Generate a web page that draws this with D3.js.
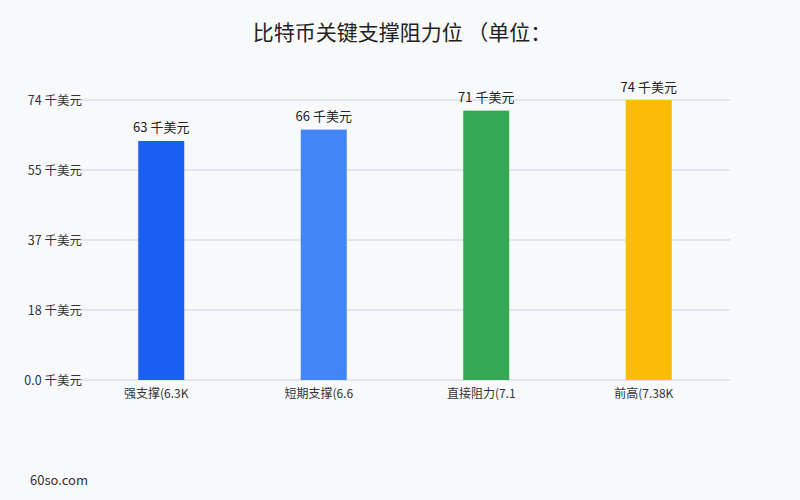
<!DOCTYPE html>
<html>
<head>
<meta charset="utf-8">
<script src="https://cdn.jsdelivr.net/npm/d3@7"></script>
<style>
  body { margin: 0; background: #f8f9fb; }
  text { font-family: "Noto Sans CJK SC", "Noto Sans", sans-serif; }
</style>
</head>
<body>
<div id="chart"></div>
<script>
// data
const categories = ["强支撑(6.3K", "短期支撑(6.6", "直接阻力(7.1", "前高(7.38K"];
const values = [63, 66, 71, 73.8];
const valueLabels = ["63 千美元", "66 千美元", "71 千美元", "74 千美元"];
const barColors = ["#1b5ff4", "#4285f4", "#34a853", "#fbbc05"];
const yTickValues = [0, 18.45, 36.9, 55.35, 73.8];
const yTickLabels = ["0.0 千美元", "18 千美元", "37 千美元", "55 千美元", "74 千美元"];

var width = 800, height = 500;
var margin = { top: 100, right: 70, bottom: 120, left: 80 };

var svg = d3.select("#chart")
  .append("svg")
  .attr("width", width)
  .attr("height", height);

svg.append("rect")
  .attr("width", width)
  .attr("height", height)
  .attr("fill", "#f8f9fb");

// title
svg.append("text")
  .attr("x", 402)
  .attr("y", 40)
  .attr("text-anchor", "middle")
  .attr("font-size", 21)
  .attr("fill", "#222")
  .text("比特币关键支撑阻力位 （单位：");

var x = d3.scaleBand()
  .domain(categories)
  .range([margin.left, width - margin.right])
  .padding(0);

var y = d3.scaleLinear()
  .domain([0, 73.8])
  .range([height - margin.bottom, margin.top]);

// y axis + grid
var yAxis = svg.append("g")
  .attr("transform", "translate(" + margin.left + ",0)")
  .call(d3.axisLeft(y)
    .tickValues(yTickValues)
    .tickSize(0)
    .tickPadding(0)
    .tickFormat((d, i) => yTickLabels[i]));
yAxis.select(".domain").remove();
yAxis.selectAll("text")
  .attr("font-size", 12.5)
  .attr("fill", "#333")
  .attr("x", 2);

svg.append("g")
  .selectAll("line")
  .data(yTickValues)
  .enter().append("line")
  .attr("x1", margin.left)
  .attr("x2", width - margin.right)
  .attr("y1", d => y(d))
  .attr("y2", d => y(d))
  .attr("stroke", "#c9d0e0")
  .attr("stroke-width", 1);

// bars
var barW = x.bandwidth() * 0.283;
svg.append("g")
  .selectAll("rect")
  .data(values)
  .enter().append("rect")
  .attr("x", (d, i) => x(categories[i]) + x.bandwidth() / 2 - barW / 2)
  .attr("y", d => y(d))
  .attr("width", barW)
  .attr("height", d => y(0) - y(d))
  .attr("fill", (d, i) => barColors[i]);

// value labels
svg.append("g")
  .selectAll("text")
  .data(values)
  .enter().append("text")
  .attr("x", (d, i) => x(categories[i]) + x.bandwidth() / 2)
  .attr("y", d => y(d) - 8.5)
  .attr("text-anchor", "middle")
  .attr("font-size", 13)
  .attr("fill", "#222")
  .text((d, i) => valueLabels[i]);

// x axis
var xAxis = svg.append("g")
  .attr("transform", "translate(0," + y(0) + ")")
  .call(d3.axisBottom(x).tickSize(0).tickPadding(9));
xAxis.select(".domain").remove();
xAxis.selectAll("text")
  .attr("font-size", 12)
  .attr("fill", "#333")
  .attr("x", -5);

// footer
svg.append("text")
  .attr("x", 30)
  .attr("y", 485)
  .attr("font-size", 13)
  .attr("fill", "#333")
  .text("60so.com");
</script>
</body>
</html>
